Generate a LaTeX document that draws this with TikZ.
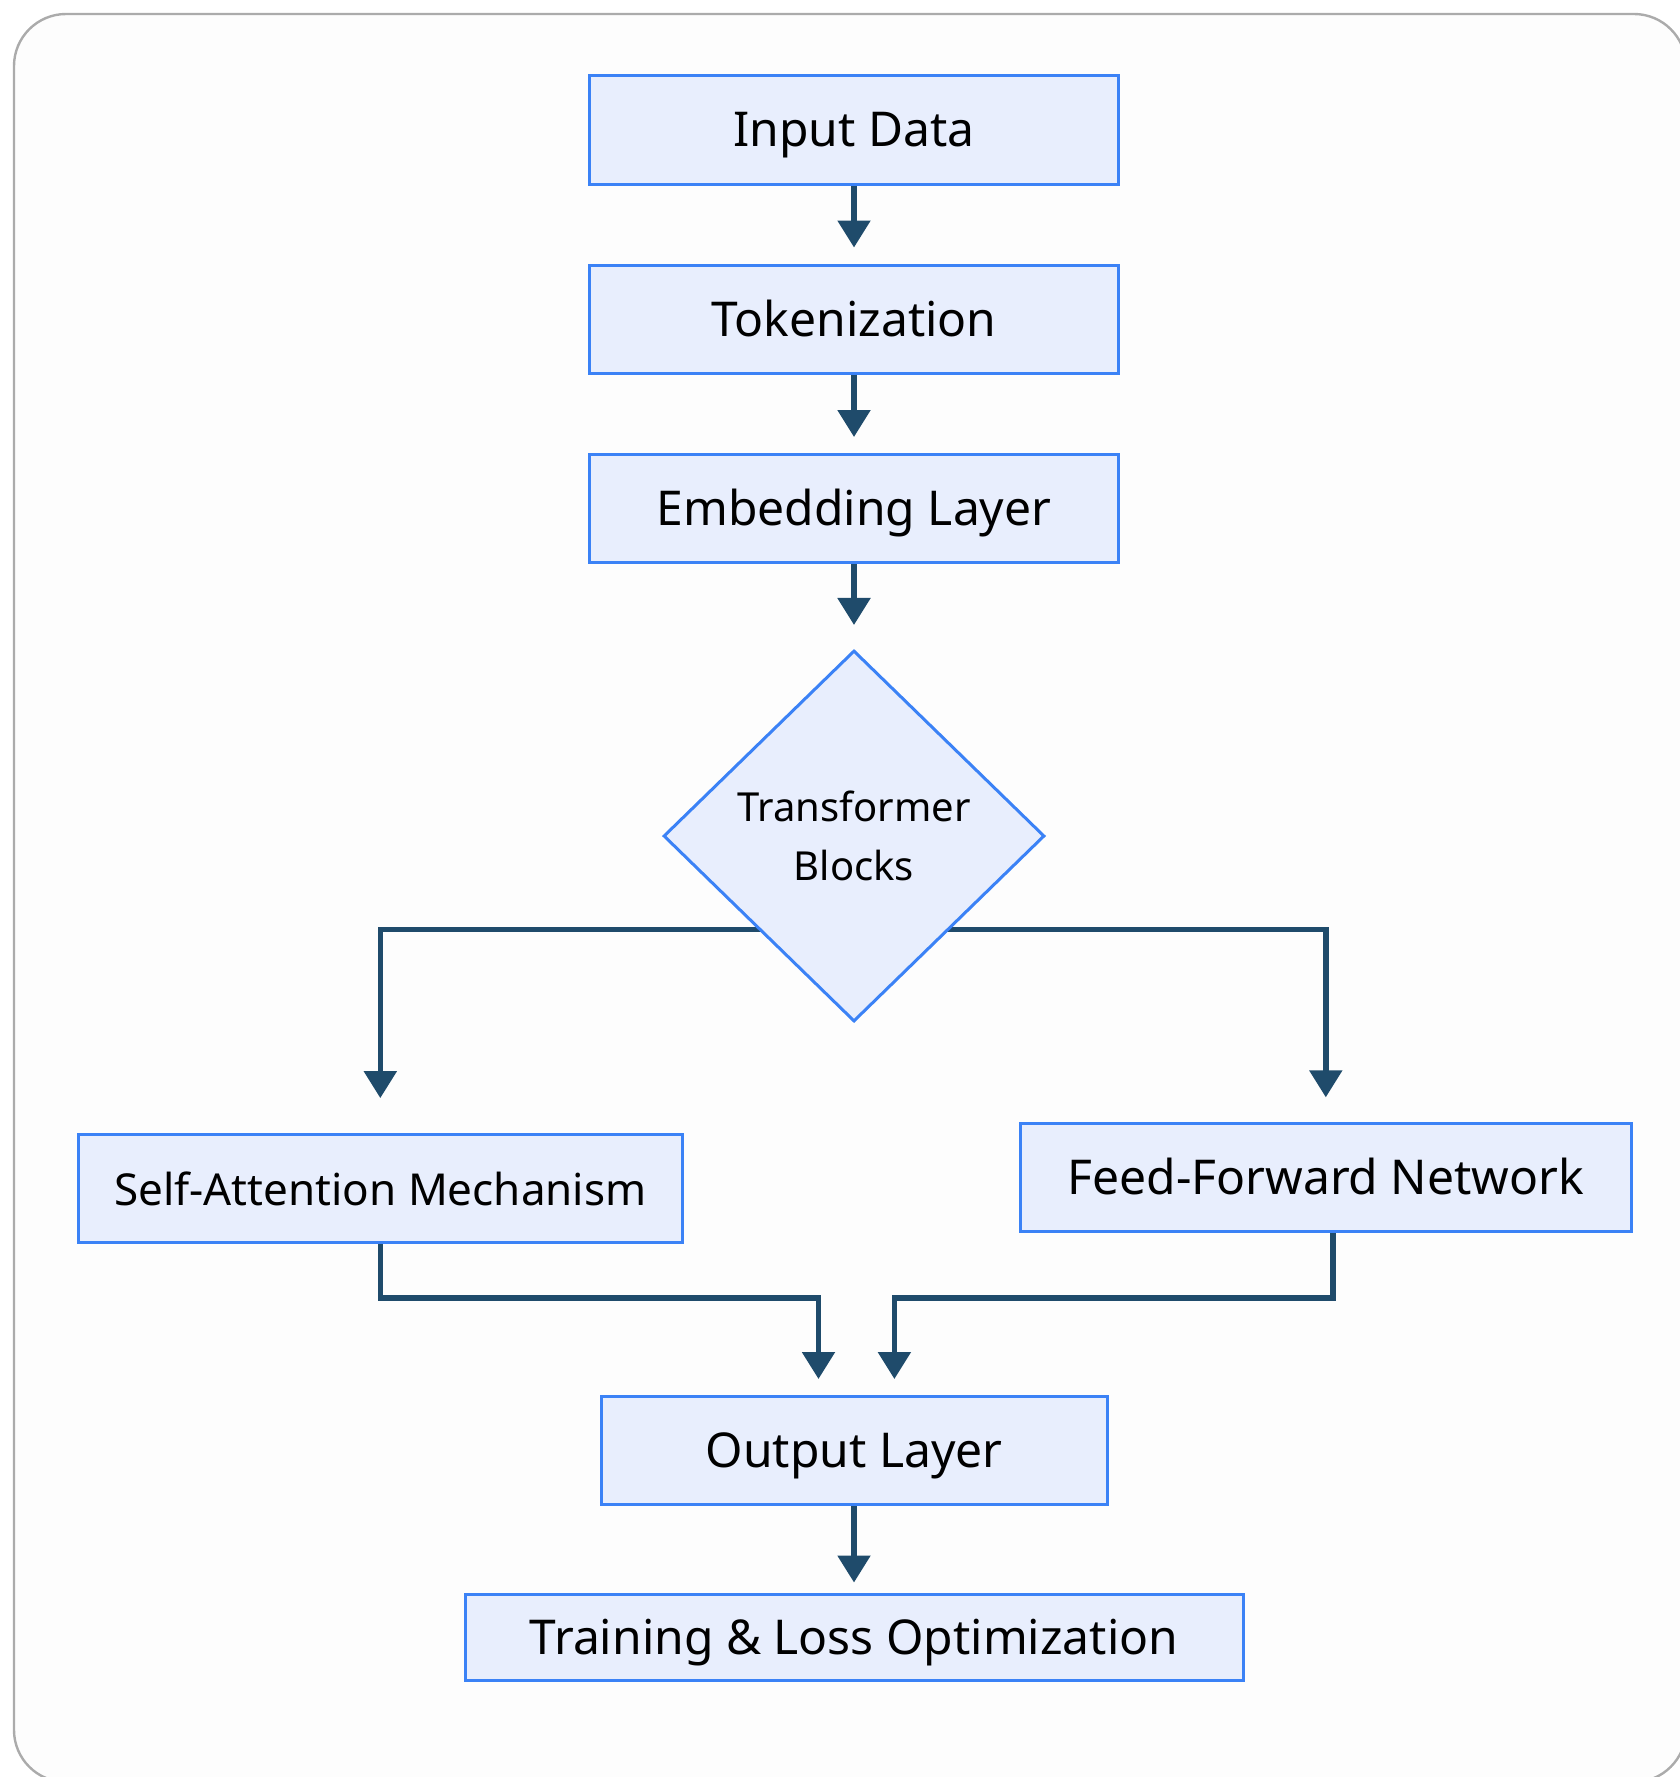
\documentclass[tikz,border=0pt]{standalone}
\usepackage{fontspec}
\setmainfont{Noto Sans}
\usepackage{tikz}
\usetikzlibrary{shapes.geometric,arrows.meta,backgrounds}
\definecolor{boxfill}{HTML}{E8EEFD}
\definecolor{boxline}{HTML}{3B82F6}
\definecolor{flowc}{HTML}{1F4B6B}
\definecolor{framec}{HTML}{ABABAB}
\definecolor{pagec}{HTML}{FDFDFD}

\begin{document}
\begin{tikzpicture}[x=0.5pt,y=-0.5pt,
stage/.style={draw=boxline, fill=boxfill, line width=1.5pt, minimum width=264.5pt,
    minimum height=54pt, inner sep=0pt, text height=17pt, text depth=0pt,
    font=\fontsize{24}{29}\selectfont},
decide/.style={diamond, draw=boxline, fill=boxfill, line width=1.5pt, minimum width=190.5pt,
    minimum height=185.5pt, inner sep=0pt, align=center, font=\fontsize{20}{29.5}\selectfont},
flow/.style={draw=flowc, line width=2.7pt, -{Triangle[width=16pt,length=13.5pt]}, shorten >=8pt}]
\useasboundingbox (0,0) rectangle (1680,1777);
\begin{scope}[on background layer]
\draw[draw=framec, fill=pagec, line width=1.2pt, rounded corners=26pt] (14,14) rectangle (1686,1782);
\end{scope}

\node[stage] (inp) at (854,130) {Input Data};
\node[stage] (tok) at (854,319) {Tokenization};
\node[stage] (emb) at (854,508.5) {Embedding Layer};
\node[decide] (tfb) at (854,836) {Transformer\\Blocks};
\node[stage, minimum width=302pt, font=\fontsize{22}{26}\selectfont] (sam) at (380.3,1188.6) {Self-Attention Mechanism};
\node[stage, minimum width=305.5pt] (ffn) at (1325.8,1177.8) {Feed-Forward Network};
\node[stage, minimum width=253pt] (out) at (854,1450.5) {Output Layer};
\node[stage, minimum width=389pt, minimum height=43pt] (trn) at (854,1637) {Training \& Loss Optimization};

\coordinate (jl) at (818.5,1298);
\coordinate (jr) at (894.4,1298);

\draw[flow] (inp) -- (tok);
\draw[flow] (tok) -- (emb);
\draw[flow, shorten >=12pt] (emb) -- (tfb);
\begin{scope}[on background layer]
\draw[flow, shorten >=17.5pt] ([xshift=20pt]tfb.south west) -| (sam);
\draw[flow, shorten >=12.5pt] ([xshift=-20pt]tfb.south east) -| (ffn);
\end{scope}
\draw[flow] (sam.south) |- (jl) -- (jl |- out.north);
\draw[flow] ([xshift=3.6pt]ffn.south) |- (jr) -- (jr |- out.north);
\draw[flow, shorten >=5pt] (out) -- (trn);
\end{tikzpicture}
\end{document}
